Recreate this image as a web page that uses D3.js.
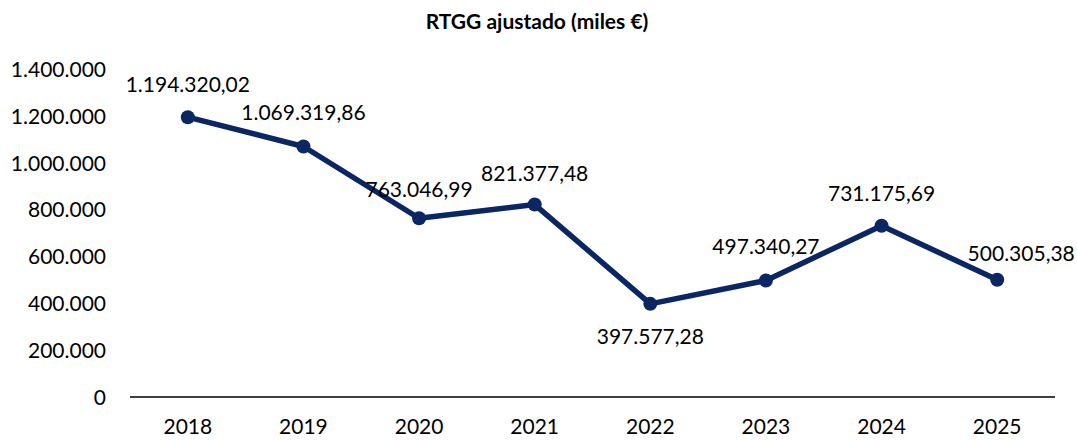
<!DOCTYPE html>
<html>
<head>
<meta charset="utf-8">
<script src="https://cdn.jsdelivr.net/npm/d3@7"></script>
<style>
  body { margin: 0; background: #fff; }
  text { font-family: Lato, "Open Sans", sans-serif; fill: #000; }
</style>
</head>
<body>
<div class="chart"></div>
<script>
const years = ["2018", "2019", "2020", "2021", "2022", "2023", "2024", "2025"]
const values = [1194320.02, 1069319.86, 763046.99, 821377.48, 397577.28, 497340.27, 731175.69, 500305.38]
const yTicks = [0, 200000, 400000, 600000, 800000, 1000000, 1200000, 1400000]

// where each data label sits relative to its point
const labelShift = [[0, -25], [0, -26], [0, -21], [0, -24], [0, 40], [0, -26], [0, -25], [24, -19]]

const width = 1077, height = 440
const plotLeft = 130, plotRight = 1055, plotTop = 69, plotBottom = 397
const color = "#0b2763"

const svg = d3.select(".chart").append("svg")
  .attr("width", width)
  .attr("height", height)

const x = d3.scaleBand().domain(years).range([plotLeft, plotRight])
const y = d3.scaleLinear().domain([0, 1400000]).range([plotBottom, plotTop])

const loc = d3.formatLocale({ decimal: ",", thousands: ".", grouping: [3], currency: ["", "€"] })
const tickFmt = loc.format(",.0f")
const labelFmt = loc.format(",.2f")

svg.append("text")
  .attr("x", 537).attr("y", 29)
  .attr("text-anchor", "middle")
  .style("font-weight", "bold")
  .style("font-size", "21px")
  .text("RTGG ajustado (miles €)")

// y axis: labels only
const yAxis = d3.axisLeft(y).tickValues(yTicks).tickFormat(tickFmt).tickSize(0).tickPadding(24)
const gy = svg.append("g").attr("transform", `translate(${plotLeft},0)`).call(yAxis)
gy.select(".domain").remove()
gy.selectAll("text").style("font-size", "21px").attr("dy", "0.35em")

const xAxis = d3.axisBottom(x).tickSize(0).tickPadding(22)
const gx = svg.append("g").attr("transform", `translate(0,${plotBottom})`).call(xAxis)
gx.select(".domain").attr("stroke", "#000").attr("stroke-width", 1.5).attr("d", `M${plotLeft},0H${plotRight}`)
gx.selectAll("text").style("font-size", "21px")

const cx = d => x(d) + x.bandwidth() / 2

svg.append("path")
  .datum(values)
  .attr("fill", "none")
  .attr("stroke", color)
  .attr("stroke-width", 5.5)
  .attr("stroke-linejoin", "round")
  .attr("d", d3.line().x((d, i) => cx(years[i])).y(d => y(d)))

svg.selectAll("circle.pt")
  .data(values)
  .enter()
  .append("circle")
  .attr("class", "pt")
  .attr("cx", (d, i) => cx(years[i]))
  .attr("cy", d => y(d))
  .attr("r", 7)
  .attr("fill", color)

svg.selectAll("text.lbl")
  .data(values)
  .enter()
  .append("text")
  .attr("class", "lbl")
  .attr("x", (d, i) => cx(years[i]) + labelShift[i][0])
  .attr("y", (d, i) => y(d) + labelShift[i][1])
  .attr("text-anchor", "middle")
  .style("font-size", "21px")
  .text(d => labelFmt(d))
</script>
</body>
</html>
